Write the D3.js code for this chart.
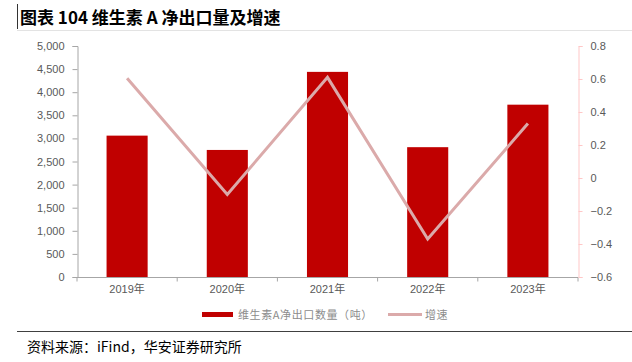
<!DOCTYPE html>
<html><head><meta charset="utf-8">
<script src="https://cdn.jsdelivr.net/npm/d3@7"></script>
<style>
body{margin:0;background:#fff;}
svg{display:block;font-family:"Liberation Sans","Noto Sans CJK SC",sans-serif;}
</style></head>
<body><svg id="c" width="632" height="362"></svg>
<script>
const categories = ["2019年","2020年","2021年","2022年","2023年"];
const exportVolume = [3060, 2750, 4440, 2810, 3730];
const growthRate = [0.605, -0.10, 0.61, -0.37, 0.33];
const leftTicks = [0,500,1000,1500,2000,2500,3000,3500,4000,4500,5000];
const rightTicks = [-0.6,-0.4,-0.2,0,0.2,0.4,0.6,0.8];
const titleText = "图表 104  维生素 A 净出口量及增速";
const sourceText = "资料来源：iFind，华安证券研究所";
const legendLabels = ["维生素A净出口数量（吨）","增速"];

const svg = d3.select("#c");
const W=632,H=362;
const m={l:77,r:578,t:46,b:277};

// Title
svg.append("line").attr("x1",17.5).attr("x2",17.5).attr("y1",4).attr("y2",29).attr("stroke","#333").attr("stroke-width",1);
svg.append("text").attr("x",20).attr("y",24).text(titleText)
  .attr("font-size",17).attr("font-weight","bold").attr("fill","#000")
  .attr("font-family","'Noto Sans CJK SC','Liberation Sans',sans-serif");
svg.append("line").attr("x1",17).attr("x2",W).attr("y1",30.5).attr("y2",30.5).attr("stroke","#e3e3e3");

const x = d3.scaleBand().domain(categories).range([m.l,m.r]).paddingInner(0.59).paddingOuter(0.295);
const xb = d3.scaleBand().domain(categories).range([m.l,m.r]);
const yL = d3.scaleLinear().domain([0,5000]).range([m.b,m.t]);
const yR = d3.scaleLinear().domain([-0.6,0.8]).range([m.b,m.t]);

// bars
svg.append("g").selectAll("rect").data(exportVolume).join("rect")
  .attr("x",(d,i)=>x(categories[i])).attr("width",x.bandwidth())
  .attr("y",d=>yL(d)).attr("height",d=>yL(0)-yL(d)).attr("fill","#C00000");

// left axis
const gl = svg.append("g").attr("transform",`translate(${m.l+0.5},0)`)
  .call(d3.axisLeft(yL).tickValues(leftTicks).tickSize(5).tickPadding(8).tickFormat(d3.format(",")));
gl.select(".domain").attr("stroke","#A6A6A6");
gl.selectAll(".tick line").attr("stroke","#A6A6A6");
gl.selectAll("text").attr("fill","#595959").attr("font-size",11);

// right axis
const gr = svg.append("g").attr("transform",`translate(${m.r+0.5},0)`)
  .call(d3.axisRight(yR).tickValues(rightTicks).tickSize(4).tickPadding(8).tickFormat(d=>d3.format("")(+d.toFixed(1))));
gr.select(".domain").attr("stroke","#FFC7C7");
gr.selectAll(".tick line").attr("stroke","#FFC7C7");
gr.selectAll("text").attr("fill","#595959").attr("font-size",11);

// x axis
const gx = svg.append("g").attr("transform",`translate(0,${m.b+0.5})`);
gx.append("line").attr("x1",m.l).attr("x2",m.r).attr("stroke","#A6A6A6");
gx.selectAll(".tk").data(categories.concat([null])).join("line")
  .attr("x1",(d,i)=>i<categories.length?xb(d):m.r).attr("x2",(d,i)=>i<categories.length?xb(d):m.r)
  .attr("y1",0).attr("y2",4).attr("stroke","#A6A6A6");
gx.selectAll("text").data(categories).join("text")
  .attr("x",d=>xb(d)+xb.bandwidth()/2).attr("y",15).attr("text-anchor","middle")
  .attr("fill","#595959").attr("font-size",11).text(d=>d);

// line
const line = d3.line().x((d,i)=>xb(categories[i])+xb.bandwidth()/2).y(d=>yR(d));
svg.append("path").datum(growthRate).attr("d",line).attr("fill","none")
  .attr("stroke","#DBAAAA").attr("stroke-width",3).attr("stroke-linejoin","miter");

// legend
const lg = svg.append("g");
lg.append("rect").attr("x",202).attr("y",312).attr("width",31).attr("height",5).attr("fill","#C00000");
lg.append("text").attr("x",238).attr("y",318.5).attr("font-size",11).attr("fill","#8c8c8c").attr("letter-spacing",0.6)
  .attr("font-family","'Noto Sans CJK SC',sans-serif").text(legendLabels[0]);
lg.append("line").attr("x1",388).attr("x2",422).attr("y1",314.5).attr("y2",314.5).attr("stroke","#DBAAAA").attr("stroke-width",3);
lg.append("text").attr("x",425).attr("y",318.5).attr("font-size",11).attr("fill","#8c8c8c").attr("letter-spacing",0.6)
  .attr("font-family","'Noto Sans CJK SC',sans-serif").text(legendLabels[1]);

// source
svg.append("line").attr("x1",17).attr("x2",W).attr("y1",331.5).attr("y2",331.5).attr("stroke","#404040").attr("stroke-width",1);
svg.append("text").attr("x",27).attr("y",352).attr("font-size",14).attr("fill","#000")
  .attr("font-family","'Noto Sans CJK SC','Liberation Sans',sans-serif").text(sourceText);
</script></body></html>
